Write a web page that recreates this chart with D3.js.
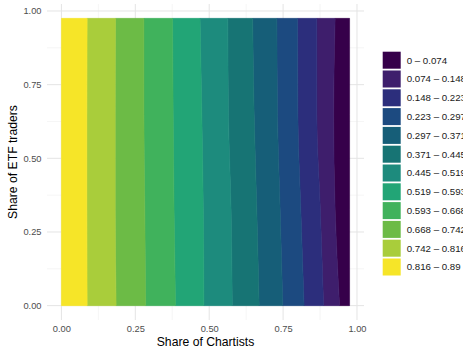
<!DOCTYPE html>
<html>
<head>
<meta charset="utf-8">
<script src="https://cdn.jsdelivr.net/npm/d3@7"></script>
<style>
  body { margin: 0; background: #fff; }
  svg text { font-family: "Liberation Sans", Arial, Helvetica, sans-serif; }
</style>
</head>
<body>
<svg id="chart" width="463" height="350"></svg>
<script>
// Filled contour levels of the surface (share of ETF traders vs share of chartists)
const levels = [0, 0.074, 0.148, 0.223, 0.297, 0.371, 0.445, 0.519, 0.593, 0.668, 0.742, 0.816, 0.89];
const bandLabels = ["0 – 0.074", "0.074 – 0.148", "0.148 – 0.223", "0.223 – 0.297",
                    "0.297 – 0.371", "0.371 – 0.445", "0.445 – 0.519", "0.519 – 0.593",
                    "0.593 – 0.668", "0.668 – 0.742", "0.742 – 0.816", "0.816 – 0.89"];

// Sampled rows of the grid (share of ETF traders)
const etfShare = [0, 0.325, 0.65, 0.975];
// Grid extent on both axes
const gridMin = 0;
const gridMax = 0.975;

// Share of chartists where the surface crosses each inner level (levels[1]..levels[11]),
// one value per etfShare row
const crossings = [
  /* 0.074 */ [0.941, 0.926, 0.921, 0.926],
  /* 0.148 */ [0.887, 0.876, 0.864, 0.864],
  /* 0.223 */ [0.821, 0.810, 0.800, 0.799],
  /* 0.297 */ [0.749, 0.740, 0.731, 0.729],
  /* 0.371 */ [0.669, 0.661, 0.652, 0.647],
  /* 0.445 */ [0.578, 0.574, 0.565, 0.563],
  /* 0.519 */ [0.482, 0.480, 0.475, 0.469],
  /* 0.593 */ [0.386, 0.381, 0.378, 0.376],
  /* 0.668 */ [0.285, 0.282, 0.279, 0.279],
  /* 0.742 */ [0.185, 0.182, 0.182, 0.183],
  /* 0.816 */ [0.087, 0.086, 0.086, 0.087]
];

const tickValues = [0, 0.25, 0.5, 0.75, 1];
const minorTicks = [0.125, 0.375, 0.625, 0.875];

// Viridis-style band colours, lowest level first
const palette = ["#36004a", "#3e1e6c", "#2c2e7c", "#1c4a80", "#165e78", "#177474",
                 "#1d8b7d", "#22a576", "#40b25c", "#6cbb46", "#a9cd3b", "#f6e528"];

const svg = d3.select("#chart");
const panel = { left: 47, right: 364, top: 4, bottom: 320 };

// 5% expansion around the grid extent
const pad = (gridMax - gridMin) * 0.05;
const x = d3.scaleLinear().domain([gridMin - pad, gridMax + pad]).range([panel.left, panel.right]);
const y = d3.scaleLinear().domain([gridMin - pad, gridMax + pad]).range([panel.bottom, panel.top]);

// Grid lines
const grid = svg.append("g");
grid.selectAll("line.minor-x").data(minorTicks).join("line")
  .attr("x1", d => x(d)).attr("x2", d => x(d))
  .attr("y1", panel.top).attr("y2", panel.bottom)
  .attr("stroke", "#f0f0f0").attr("stroke-width", 0.7);
grid.selectAll("line.minor-y").data(minorTicks).join("line")
  .attr("y1", d => y(d)).attr("y2", d => y(d))
  .attr("x1", panel.left).attr("x2", panel.right)
  .attr("stroke", "#f0f0f0").attr("stroke-width", 0.7);
grid.selectAll("line.major-x").data(tickValues).join("line")
  .attr("x1", d => x(d)).attr("x2", d => x(d))
  .attr("y1", panel.top).attr("y2", panel.bottom)
  .attr("stroke", "#e4e4e4").attr("stroke-width", 1);
grid.selectAll("line.major-y").data(tickValues).join("line")
  .attr("y1", d => y(d)).attr("y2", d => y(d))
  .attr("x1", panel.left).attr("x2", panel.right)
  .attr("stroke", "#e4e4e4").attr("stroke-width", 1);

// Bands: band k spans levels[k]..levels[k+1]; the surface falls as chartists rise,
// so its left edge is the crossing of levels[k+1] and its right edge the crossing of levels[k]
const last = levels.length - 2;
const bands = d3.range(levels.length - 1).map(k => ({
  k,
  points: etfShare.map((e, i) => ({
    e,
    x0: k === last ? gridMin : crossings[k][i],
    x1: k === 0 ? gridMax : crossings[k - 1][i]
  }))
}));

const area = d3.area()
  .curve(d3.curveMonotoneY)
  .y(d => y(d.e))
  .x0(d => x(d.x0))
  .x1(d => x(d.x1));

svg.append("g").selectAll("path").data(bands).join("path")
  .attr("d", d => area(d.points))
  .attr("fill", d => palette[d.k])
  .attr("stroke", d => palette[d.k])
  .attr("stroke-width", 0.6);

// Axes
const fmt = d3.format(".2f");
const gx = svg.append("g").attr("transform", `translate(0,${panel.bottom})`)
  .call(d3.axisBottom(x).tickValues(tickValues).tickSize(0).tickPadding(5).tickFormat(fmt));
const gy = svg.append("g").attr("transform", `translate(${panel.left},0)`)
  .call(d3.axisLeft(y).tickValues(tickValues).tickSize(0).tickPadding(5.5).tickFormat(fmt));
[gx, gy].forEach(g => {
  g.select(".domain").remove();
  g.attr("font-family", null).attr("font-size", null);
  g.selectAll("text").attr("font-size", "9.3px").attr("fill", "#4d4d4d");
});

// Axis titles
svg.append("text")
  .attr("x", (panel.left + panel.right) / 2).attr("y", 346)
  .attr("text-anchor", "middle").attr("font-size", "12.2px").attr("fill", "#000")
  .text("Share of Chartists");
svg.append("text")
  .attr("transform", `translate(17,${(panel.top + panel.bottom) / 2}) rotate(-90)`)
  .attr("text-anchor", "middle").attr("font-size", "12.2px").attr("fill", "#000")
  .text("Share of ETF traders");

// Legend
const legend = svg.append("g").attr("transform", "translate(382.7,51.7)");
const item = legend.selectAll("g").data(bandLabels).join("g")
  .attr("transform", (d, i) => `translate(0,${i * 18.8})`);
item.append("rect")
  .attr("width", 18).attr("height", 17)
  .attr("fill", (d, i) => palette[i]);
item.append("text")
  .attr("x", 24).attr("y", 8.5).attr("dy", "0.35em")
  .attr("font-size", "9.7px").attr("fill", "#1a1a1a")
  .text(d => d);
</script>
</body>
</html>
